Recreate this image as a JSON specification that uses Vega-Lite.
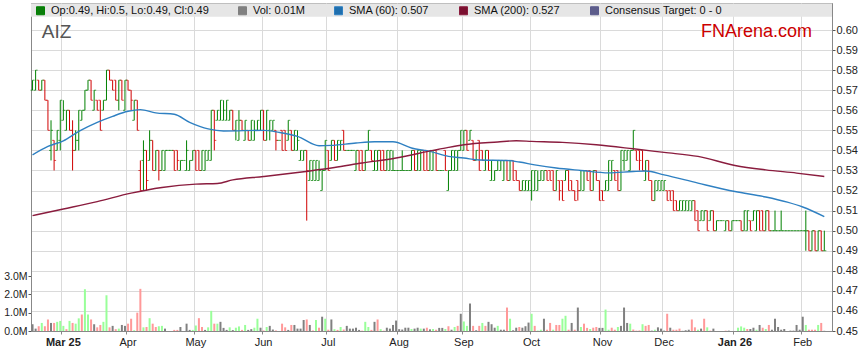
{
"$schema":"https://vega.github.io/schema/vega-lite/v6.json",
"width":801,"height":328,
"autosize":{"type":"none"},
"padding":{"left":31,"top":3,"right":27,"bottom":32},
"background":"white",
"config":{"font":"Liberation Sans","view":{"stroke":"#999"}},
"datasets":{
"px":[
{"d":"2025-02-17","o":0.57,"h":0.575,"l":0.57,"c":0.575,"v":370000,"t":"n"},
{"d":"2025-02-18","o":0.57,"h":0.58,"l":0.57,"c":0.58,"v":130000,"t":"n"},
{"d":"2025-02-19","o":0.575,"h":0.575,"l":0.57,"c":0.57,"v":260000,"t":"d"},
{"d":"2025-02-20","o":0.57,"h":0.575,"l":0.57,"c":0.575,"v":440000,"t":"u"},
{"d":"2025-02-21","o":0.575,"h":0.575,"l":0.565,"c":0.565,"v":260000,"t":"d"},
{"d":"2025-02-24","o":0.565,"h":0.565,"l":0.55,"c":0.55,"v":630000,"t":"d"},
{"d":"2025-02-25","o":0.54,"h":0.555,"l":0.535,"c":0.55,"v":440000,"t":"n"},
{"d":"2025-02-26","o":0.545,"h":0.545,"l":0.53,"c":0.535,"v":440000,"t":"d"},
{"d":"2025-02-27","o":0.54,"h":0.55,"l":0.54,"c":0.55,"v":500000,"t":"u"},
{"d":"2025-02-28","o":0.545,"h":0.565,"l":0.54,"c":0.565,"v":550000,"t":"u"},
{"d":"2025-03-03","o":0.555,"h":0.565,"l":0.555,"c":0.56,"v":280000,"t":"u"},
{"d":"2025-03-04","o":0.55,"h":0.56,"l":0.55,"c":0.56,"v":100000,"t":"d"},
{"d":"2025-03-05","o":0.56,"h":0.56,"l":0.55,"c":0.55,"v":550000,"t":"u"},
{"d":"2025-03-06","o":0.55,"h":0.555,"l":0.53,"c":0.54,"v":440000,"t":"d"},
{"d":"2025-03-07","o":0.54,"h":0.55,"l":0.54,"c":0.545,"v":400000,"t":"u"},
{"d":"2025-03-10","o":0.545,"h":0.56,"l":0.54,"c":0.56,"v":690000,"t":"u"},
{"d":"2025-03-11","o":0.555,"h":0.56,"l":0.555,"c":0.56,"v":900000,"t":"d"},
{"d":"2025-03-12","o":0.56,"h":0.57,"l":0.56,"c":0.57,"v":2280000,"t":"u"},
{"d":"2025-03-13","o":0.57,"h":0.575,"l":0.57,"c":0.575,"v":900000,"t":"u"},
{"d":"2025-03-14","o":0.575,"h":0.575,"l":0.565,"c":0.565,"v":630000,"t":"d"},
{"d":"2025-03-17","o":0.56,"h":0.57,"l":0.56,"c":0.57,"v":370000,"t":"n"},
{"d":"2025-03-18","o":0.565,"h":0.565,"l":0.56,"c":0.56,"v":200000,"t":"d"},
{"d":"2025-03-19","o":0.565,"h":0.565,"l":0.55,"c":0.55,"v":330000,"t":"d"},
{"d":"2025-03-20","o":0.56,"h":0.565,"l":0.56,"c":0.565,"v":500000,"t":"u"},
{"d":"2025-03-21","o":0.565,"h":0.58,"l":0.565,"c":0.58,"v":1950000,"t":"u"},
{"d":"2025-03-24","o":0.58,"h":0.58,"l":0.575,"c":0.575,"v":200000,"t":"d"},
{"d":"2025-03-25","o":0.575,"h":0.575,"l":0.57,"c":0.57,"v":280000,"t":"n"},
{"d":"2025-03-26","o":0.575,"h":0.575,"l":0.565,"c":0.565,"v":100000,"t":"d"},
{"d":"2025-03-27","o":0.565,"h":0.575,"l":0.56,"c":0.575,"v":130000,"t":"u"},
{"d":"2025-03-28","o":0.575,"h":0.575,"l":0.565,"c":0.565,"v":330000,"t":"n"},
{"d":"2025-03-31","o":0.56,"h":0.575,"l":0.56,"c":0.575,"v":280000,"t":"n"},
{"d":"2025-04-01","o":0.575,"h":0.575,"l":0.57,"c":0.57,"v":400000,"t":"d"},
{"d":"2025-04-02","o":0.57,"h":0.57,"l":0.56,"c":0.565,"v":670000,"t":"d"},
{"d":"2025-04-03","o":0.555,"h":0.565,"l":0.555,"c":0.565,"v":40000,"t":"u"},
{"d":"2025-04-04","o":0.565,"h":0.565,"l":0.55,"c":0.55,"v":1000000,"t":"d"},
{"d":"2025-04-07","o":0.53,"h":0.535,"l":0.52,"c":0.52,"v":2300000,"t":"d"},
{"d":"2025-04-08","o":0.535,"h":0.545,"l":0.52,"c":0.54,"v":200000,"t":"u"},
{"d":"2025-04-09","o":0.54,"h":0.54,"l":0.52,"c":0.525,"v":220000,"t":"d"},
{"d":"2025-04-10","o":0.535,"h":0.55,"l":0.535,"c":0.545,"v":700000,"t":"u"},
{"d":"2025-04-11","o":0.545,"h":0.545,"l":0.53,"c":0.53,"v":400000,"t":"d"},
{"d":"2025-04-14","o":0.53,"h":0.54,"l":0.53,"c":0.54,"v":220000,"t":"d"},
{"d":"2025-04-15","o":0.54,"h":0.54,"l":0.525,"c":0.53,"v":260000,"t":"u"},
{"d":"2025-04-16","o":0.53,"h":0.54,"l":0.53,"c":0.54,"v":280000,"t":"u"},
{"d":"2025-04-17","o":0.53,"h":0.54,"l":0.53,"c":0.54,"v":130000,"t":"n"},
{"d":"2025-04-18","o":0.54,"h":0.54,"l":0.54,"c":0.54,"v":0,"t":"n"},
{"d":"2025-04-21","o":0.54,"h":0.54,"l":0.54,"c":0.54,"v":0,"t":"n"},
{"d":"2025-04-22","o":0.54,"h":0.54,"l":0.53,"c":0.53,"v":60000,"t":"d"},
{"d":"2025-04-23","o":0.54,"h":0.54,"l":0.53,"c":0.535,"v":60000,"t":"d"},
{"d":"2025-04-24","o":0.53,"h":0.535,"l":0.53,"c":0.535,"v":220000,"t":"n"},
{"d":"2025-04-25","o":0.535,"h":0.535,"l":0.535,"c":0.535,"v":0,"t":"n"},
{"d":"2025-04-28","o":0.53,"h":0.545,"l":0.53,"c":0.54,"v":400000,"t":"n"},
{"d":"2025-04-29","o":0.53,"h":0.535,"l":0.53,"c":0.535,"v":60000,"t":"n"},
{"d":"2025-04-30","o":0.535,"h":0.54,"l":0.535,"c":0.54,"v":60000,"t":"u"},
{"d":"2025-05-01","o":0.54,"h":0.54,"l":0.53,"c":0.53,"v":300000,"t":"u"},
{"d":"2025-05-02","o":0.54,"h":0.54,"l":0.53,"c":0.53,"v":700000,"t":"d"},
{"d":"2025-05-05","o":0.53,"h":0.54,"l":0.53,"c":0.54,"v":220000,"t":"d"},
{"d":"2025-05-06","o":0.53,"h":0.54,"l":0.53,"c":0.54,"v":60000,"t":"n"},
{"d":"2025-05-07","o":0.535,"h":0.54,"l":0.535,"c":0.54,"v":200000,"t":"u"},
{"d":"2025-05-08","o":0.535,"h":0.56,"l":0.535,"c":0.56,"v":1100000,"t":"u"},
{"d":"2025-05-09","o":0.56,"h":0.56,"l":0.54,"c":0.545,"v":400000,"t":"d"},
{"d":"2025-05-12","o":0.555,"h":0.56,"l":0.555,"c":0.56,"v":400000,"t":"u"},
{"d":"2025-05-13","o":0.555,"h":0.565,"l":0.555,"c":0.565,"v":500000,"t":"n"},
{"d":"2025-05-14","o":0.555,"h":0.565,"l":0.555,"c":0.56,"v":170000,"t":"n"},
{"d":"2025-05-15","o":0.555,"h":0.565,"l":0.555,"c":0.565,"v":60000,"t":"n"},
{"d":"2025-05-16","o":0.555,"h":0.56,"l":0.555,"c":0.56,"v":200000,"t":"u"},
{"d":"2025-05-19","o":0.56,"h":0.56,"l":0.55,"c":0.55,"v":50000,"t":"n"},
{"d":"2025-05-20","o":0.55,"h":0.555,"l":0.545,"c":0.555,"v":180000,"t":"u"},
{"d":"2025-05-21","o":0.545,"h":0.56,"l":0.545,"c":0.555,"v":250000,"t":"u"},
{"d":"2025-05-22","o":0.555,"h":0.555,"l":0.55,"c":0.55,"v":60000,"t":"d"},
{"d":"2025-05-23","o":0.545,"h":0.555,"l":0.545,"c":0.555,"v":330000,"t":"u"},
{"d":"2025-05-26","o":0.55,"h":0.55,"l":0.545,"c":0.545,"v":60000,"t":"n"},
{"d":"2025-05-27","o":0.545,"h":0.555,"l":0.545,"c":0.555,"v":100000,"t":"n"},
{"d":"2025-05-28","o":0.545,"h":0.555,"l":0.545,"c":0.55,"v":180000,"t":"u"},
{"d":"2025-05-29","o":0.55,"h":0.555,"l":0.55,"c":0.555,"v":670000,"t":"u"},
{"d":"2025-05-30","o":0.55,"h":0.56,"l":0.55,"c":0.56,"v":180000,"t":"n"},
{"d":"2025-06-02","o":0.56,"h":0.56,"l":0.545,"c":0.545,"v":30000,"t":"d"},
{"d":"2025-06-03","o":0.545,"h":0.56,"l":0.545,"c":0.56,"v":220000,"t":"u"},
{"d":"2025-06-04","o":0.55,"h":0.555,"l":0.545,"c":0.555,"v":280000,"t":"n"},
{"d":"2025-06-05","o":0.55,"h":0.555,"l":0.55,"c":0.555,"v":80000,"t":"n"},
{"d":"2025-06-06","o":0.55,"h":0.55,"l":0.54,"c":0.545,"v":30000,"t":"d"},
{"d":"2025-06-09","o":0.545,"h":0.545,"l":0.545,"c":0.545,"v":0,"t":"n"},
{"d":"2025-06-10","o":0.55,"h":0.55,"l":0.54,"c":0.54,"v":400000,"t":"d"},
{"d":"2025-06-11","o":0.55,"h":0.55,"l":0.54,"c":0.54,"v":200000,"t":"d"},
{"d":"2025-06-12","o":0.545,"h":0.555,"l":0.545,"c":0.555,"v":60000,"t":"n"},
{"d":"2025-06-13","o":0.55,"h":0.55,"l":0.54,"c":0.54,"v":330000,"t":"d"},
{"d":"2025-06-16","o":0.54,"h":0.55,"l":0.54,"c":0.55,"v":330000,"t":"n"},
{"d":"2025-06-17","o":0.54,"h":0.55,"l":0.54,"c":0.545,"v":130000,"t":"n"},
{"d":"2025-06-18","o":0.535,"h":0.54,"l":0.535,"c":0.54,"v":130000,"t":"n"},
{"d":"2025-06-19","o":0.535,"h":0.54,"l":0.535,"c":0.54,"v":600000,"t":"n"},
{"d":"2025-06-20","o":0.54,"h":0.54,"l":0.505,"c":0.53,"v":630000,"t":"d"},
{"d":"2025-06-23","o":0.525,"h":0.535,"l":0.525,"c":0.535,"v":330000,"t":"n"},
{"d":"2025-06-24","o":0.525,"h":0.535,"l":0.525,"c":0.535,"v":30000,"t":"d"},
{"d":"2025-06-25","o":0.525,"h":0.535,"l":0.525,"c":0.535,"v":600000,"t":"u"},
{"d":"2025-06-26","o":0.525,"h":0.535,"l":0.525,"c":0.53,"v":180000,"t":"d"},
{"d":"2025-06-27","o":0.52,"h":0.53,"l":0.52,"c":0.53,"v":780000,"t":"n"},
{"d":"2025-06-30","o":0.53,"h":0.545,"l":0.53,"c":0.545,"v":670000,"t":"u"},
{"d":"2025-07-01","o":0.54,"h":0.54,"l":0.53,"c":0.53,"v":70000,"t":"d"},
{"d":"2025-07-02","o":0.535,"h":0.545,"l":0.535,"c":0.545,"v":630000,"t":"n"},
{"d":"2025-07-03","o":0.545,"h":0.545,"l":0.535,"c":0.535,"v":100000,"t":"u"},
{"d":"2025-07-04","o":0.535,"h":0.545,"l":0.535,"c":0.545,"v":60000,"t":"d"},
{"d":"2025-07-07","o":0.54,"h":0.545,"l":0.54,"c":0.545,"v":220000,"t":"u"},
{"d":"2025-07-08","o":0.55,"h":0.55,"l":0.54,"c":0.54,"v":80000,"t":"d"},
{"d":"2025-07-09","o":0.54,"h":0.54,"l":0.54,"c":0.54,"v":280000,"t":"n"},
{"d":"2025-07-10","o":0.54,"h":0.54,"l":0.54,"c":0.54,"v":130000,"t":"n"},
{"d":"2025-07-11","o":0.54,"h":0.54,"l":0.54,"c":0.54,"v":130000,"t":"n"},
{"d":"2025-07-14","o":0.53,"h":0.54,"l":0.53,"c":0.54,"v":180000,"t":"n"},
{"d":"2025-07-15","o":0.54,"h":0.54,"l":0.53,"c":0.53,"v":60000,"t":"n"},
{"d":"2025-07-16","o":0.54,"h":0.54,"l":0.53,"c":0.53,"v":20000,"t":"d"},
{"d":"2025-07-17","o":0.53,"h":0.54,"l":0.53,"c":0.54,"v":500000,"t":"u"},
{"d":"2025-07-18","o":0.54,"h":0.55,"l":0.54,"c":0.55,"v":220000,"t":"u"},
{"d":"2025-07-21","o":0.54,"h":0.54,"l":0.535,"c":0.535,"v":60000,"t":"d"},
{"d":"2025-07-22","o":0.53,"h":0.54,"l":0.53,"c":0.54,"v":500000,"t":"n"},
{"d":"2025-07-23","o":0.53,"h":0.54,"l":0.53,"c":0.54,"v":630000,"t":"d"},
{"d":"2025-07-24","o":0.54,"h":0.54,"l":0.53,"c":0.53,"v":100000,"t":"u"},
{"d":"2025-07-25","o":0.54,"h":0.54,"l":0.53,"c":0.53,"v":20000,"t":"d"},
{"d":"2025-07-28","o":0.53,"h":0.54,"l":0.53,"c":0.54,"v":180000,"t":"n"},
{"d":"2025-07-29","o":0.53,"h":0.54,"l":0.53,"c":0.54,"v":130000,"t":"n"},
{"d":"2025-07-30","o":0.53,"h":0.54,"l":0.53,"c":0.53,"v":330000,"t":"n"},
{"d":"2025-07-31","o":0.53,"h":0.53,"l":0.53,"c":0.53,"v":570000,"t":"n"},
{"d":"2025-08-01","o":0.53,"h":0.53,"l":0.53,"c":0.53,"v":100000,"t":"n"},
{"d":"2025-08-04","o":0.53,"h":0.54,"l":0.53,"c":0.53,"v":80000,"t":"n"},
{"d":"2025-08-05","o":0.53,"h":0.53,"l":0.53,"c":0.53,"v":180000,"t":"n"},
{"d":"2025-08-06","o":0.53,"h":0.53,"l":0.53,"c":0.53,"v":180000,"t":"n"},
{"d":"2025-08-07","o":0.53,"h":0.54,"l":0.53,"c":0.54,"v":110000,"t":"u"},
{"d":"2025-08-08","o":0.54,"h":0.54,"l":0.53,"c":0.53,"v":130000,"t":"n"},
{"d":"2025-08-11","o":0.53,"h":0.54,"l":0.53,"c":0.54,"v":180000,"t":"n"},
{"d":"2025-08-12","o":0.53,"h":0.54,"l":0.53,"c":0.54,"v":130000,"t":"u"},
{"d":"2025-08-13","o":0.54,"h":0.54,"l":0.53,"c":0.53,"v":130000,"t":"n"},
{"d":"2025-08-14","o":0.54,"h":0.54,"l":0.53,"c":0.53,"v":180000,"t":"d"},
{"d":"2025-08-15","o":0.53,"h":0.54,"l":0.53,"c":0.54,"v":90000,"t":"n"},
{"d":"2025-08-18","o":0.53,"h":0.54,"l":0.53,"c":0.54,"v":110000,"t":"u"},
{"d":"2025-08-19","o":0.54,"h":0.54,"l":0.53,"c":0.53,"v":70000,"t":"d"},
{"d":"2025-08-20","o":0.53,"h":0.53,"l":0.53,"c":0.53,"v":170000,"t":"n"},
{"d":"2025-08-21","o":0.53,"h":0.53,"l":0.53,"c":0.53,"v":170000,"t":"n"},
{"d":"2025-08-22","o":0.54,"h":0.54,"l":0.53,"c":0.53,"v":110000,"t":"u"},
{"d":"2025-08-25","o":0.52,"h":0.53,"l":0.52,"c":0.53,"v":260000,"t":"d"},
{"d":"2025-08-26","o":0.53,"h":0.54,"l":0.53,"c":0.54,"v":70000,"t":"n"},
{"d":"2025-08-27","o":0.53,"h":0.54,"l":0.53,"c":0.54,"v":220000,"t":"u"},
{"d":"2025-08-28","o":0.53,"h":0.54,"l":0.53,"c":0.54,"v":280000,"t":"d"},
{"d":"2025-08-29","o":0.54,"h":0.55,"l":0.54,"c":0.55,"v":940000,"t":"n"},
{"d":"2025-09-01","o":0.54,"h":0.55,"l":0.54,"c":0.55,"v":520000,"t":"u"},
{"d":"2025-09-02","o":0.55,"h":0.55,"l":0.54,"c":0.54,"v":280000,"t":"u"},
{"d":"2025-09-03","o":0.545,"h":0.55,"l":0.545,"c":0.55,"v":1500000,"t":"n"},
{"d":"2025-09-04","o":0.545,"h":0.545,"l":0.535,"c":0.535,"v":280000,"t":"d"},
{"d":"2025-09-05","o":0.535,"h":0.54,"l":0.535,"c":0.54,"v":40000,"t":"n"},
{"d":"2025-09-08","o":0.545,"h":0.545,"l":0.53,"c":0.53,"v":280000,"t":"d"},
{"d":"2025-09-09","o":0.54,"h":0.54,"l":0.535,"c":0.535,"v":440000,"t":"u"},
{"d":"2025-09-10","o":0.53,"h":0.54,"l":0.53,"c":0.54,"v":280000,"t":"d"},
{"d":"2025-09-11","o":0.54,"h":0.54,"l":0.53,"c":0.53,"v":500000,"t":"n"},
{"d":"2025-09-12","o":0.525,"h":0.535,"l":0.525,"c":0.535,"v":370000,"t":"n"},
{"d":"2025-09-15","o":0.525,"h":0.53,"l":0.525,"c":0.53,"v":180000,"t":"n"},
{"d":"2025-09-16","o":0.53,"h":0.535,"l":0.53,"c":0.535,"v":280000,"t":"u"},
{"d":"2025-09-17","o":0.53,"h":0.535,"l":0.53,"c":0.535,"v":70000,"t":"n"},
{"d":"2025-09-18","o":0.525,"h":0.535,"l":0.525,"c":0.535,"v":70000,"t":"n"},
{"d":"2025-09-19","o":0.535,"h":0.535,"l":0.525,"c":0.525,"v":1280000,"t":"d"},
{"d":"2025-09-22","o":0.525,"h":0.535,"l":0.525,"c":0.535,"v":670000,"t":"u"},
{"d":"2025-09-23","o":0.535,"h":0.535,"l":0.525,"c":0.525,"v":40000,"t":"n"},
{"d":"2025-09-24","o":0.53,"h":0.53,"l":0.525,"c":0.525,"v":180000,"t":"n"},
{"d":"2025-09-25","o":0.525,"h":0.525,"l":0.52,"c":0.52,"v":220000,"t":"d"},
{"d":"2025-09-26","o":0.52,"h":0.525,"l":0.52,"c":0.525,"v":180000,"t":"n"},
{"d":"2025-09-29","o":0.52,"h":0.525,"l":0.52,"c":0.525,"v":260000,"t":"n"},
{"d":"2025-09-30","o":0.52,"h":0.525,"l":0.52,"c":0.525,"v":460000,"t":"n"},
{"d":"2025-10-01","o":0.52,"h":0.53,"l":0.515,"c":0.53,"v":940000,"t":"u"},
{"d":"2025-10-02","o":0.52,"h":0.53,"l":0.52,"c":0.53,"v":280000,"t":"d"},
{"d":"2025-10-03","o":0.52,"h":0.53,"l":0.52,"c":0.525,"v":20000,"t":"u"},
{"d":"2025-10-06","o":0.525,"h":0.53,"l":0.525,"c":0.53,"v":70000,"t":"u"},
{"d":"2025-10-07","o":0.525,"h":0.53,"l":0.525,"c":0.53,"v":670000,"t":"n"},
{"d":"2025-10-08","o":0.53,"h":0.53,"l":0.525,"c":0.525,"v":70000,"t":"d"},
{"d":"2025-10-09","o":0.53,"h":0.53,"l":0.525,"c":0.525,"v":440000,"t":"d"},
{"d":"2025-10-10","o":0.53,"h":0.53,"l":0.52,"c":0.52,"v":70000,"t":"u"},
{"d":"2025-10-13","o":0.52,"h":0.53,"l":0.52,"c":0.53,"v":330000,"t":"d"},
{"d":"2025-10-14","o":0.525,"h":0.525,"l":0.515,"c":0.52,"v":330000,"t":"d"},
{"d":"2025-10-15","o":0.525,"h":0.525,"l":0.515,"c":0.515,"v":670000,"t":"u"},
{"d":"2025-10-16","o":0.525,"h":0.53,"l":0.525,"c":0.53,"v":830000,"t":"u"},
{"d":"2025-10-17","o":0.53,"h":0.53,"l":0.52,"c":0.52,"v":70000,"t":"d"},
{"d":"2025-10-20","o":0.525,"h":0.525,"l":0.52,"c":0.52,"v":440000,"t":"n"},
{"d":"2025-10-21","o":0.52,"h":0.52,"l":0.515,"c":0.515,"v":70000,"t":"d"},
{"d":"2025-10-22","o":0.525,"h":0.525,"l":0.515,"c":0.52,"v":1280000,"t":"n"},
{"d":"2025-10-23","o":0.52,"h":0.53,"l":0.52,"c":0.53,"v":220000,"t":"u"},
{"d":"2025-10-24","o":0.52,"h":0.53,"l":0.52,"c":0.53,"v":400000,"t":"d"},
{"d":"2025-10-27","o":0.53,"h":0.53,"l":0.525,"c":0.525,"v":170000,"t":"d"},
{"d":"2025-10-28","o":0.53,"h":0.53,"l":0.52,"c":0.52,"v":110000,"t":"u"},
{"d":"2025-10-29","o":0.52,"h":0.53,"l":0.52,"c":0.53,"v":180000,"t":"d"},
{"d":"2025-10-30","o":0.53,"h":0.53,"l":0.525,"c":0.525,"v":220000,"t":"d"},
{"d":"2025-10-31","o":0.525,"h":0.525,"l":0.515,"c":0.515,"v":170000,"t":"n"},
{"d":"2025-11-03","o":0.52,"h":0.52,"l":0.515,"c":0.515,"v":170000,"t":"n"},
{"d":"2025-11-04","o":0.52,"h":0.525,"l":0.52,"c":0.525,"v":1170000,"t":"u"},
{"d":"2025-11-05","o":0.52,"h":0.535,"l":0.52,"c":0.535,"v":70000,"t":"u"},
{"d":"2025-11-06","o":0.525,"h":0.535,"l":0.525,"c":0.535,"v":180000,"t":"d"},
{"d":"2025-11-07","o":0.53,"h":0.53,"l":0.525,"c":0.525,"v":70000,"t":"d"},
{"d":"2025-11-10","o":0.53,"h":0.53,"l":0.52,"c":0.52,"v":220000,"t":"u"},
{"d":"2025-11-11","o":0.52,"h":0.54,"l":0.52,"c":0.54,"v":280000,"t":"n"},
{"d":"2025-11-12","o":0.535,"h":0.54,"l":0.53,"c":0.54,"v":1280000,"t":"n"},
{"d":"2025-11-13","o":0.535,"h":0.54,"l":0.535,"c":0.54,"v":440000,"t":"n"},
{"d":"2025-11-14","o":0.53,"h":0.54,"l":0.53,"c":0.54,"v":400000,"t":"u"},
{"d":"2025-11-17","o":0.54,"h":0.55,"l":0.54,"c":0.55,"v":80000,"t":"d"},
{"d":"2025-11-18","o":0.54,"h":0.54,"l":0.535,"c":0.535,"v":20000,"t":"d"},
{"d":"2025-11-19","o":0.54,"h":0.54,"l":0.53,"c":0.535,"v":30000,"t":"d"},
{"d":"2025-11-20","o":0.54,"h":0.54,"l":0.53,"c":0.53,"v":370000,"t":"u"},
{"d":"2025-11-21","o":0.525,"h":0.535,"l":0.525,"c":0.535,"v":280000,"t":"d"},
{"d":"2025-11-24","o":0.535,"h":0.535,"l":0.525,"c":0.525,"v":330000,"t":"d"},
{"d":"2025-11-25","o":0.525,"h":0.525,"l":0.515,"c":0.515,"v":20000,"t":"n"},
{"d":"2025-11-26","o":0.515,"h":0.525,"l":0.515,"c":0.525,"v":70000,"t":"u"},
{"d":"2025-11-27","o":0.52,"h":0.525,"l":0.52,"c":0.525,"v":200000,"t":"n"},
{"d":"2025-11-28","o":0.52,"h":0.525,"l":0.52,"c":0.525,"v":130000,"t":"n"},
{"d":"2025-12-01","o":0.52,"h":0.525,"l":0.52,"c":0.525,"v":20000,"t":"n"},
{"d":"2025-12-02","o":0.52,"h":0.52,"l":0.515,"c":0.515,"v":940000,"t":"d"},
{"d":"2025-12-03","o":0.52,"h":0.52,"l":0.515,"c":0.515,"v":180000,"t":"n"},
{"d":"2025-12-04","o":0.52,"h":0.52,"l":0.51,"c":0.51,"v":70000,"t":"d"},
{"d":"2025-12-05","o":0.515,"h":0.515,"l":0.51,"c":0.51,"v":70000,"t":"d"},
{"d":"2025-12-08","o":0.51,"h":0.515,"l":0.51,"c":0.515,"v":130000,"t":"d"},
{"d":"2025-12-09","o":0.51,"h":0.515,"l":0.51,"c":0.515,"v":10000,"t":"n"},
{"d":"2025-12-10","o":0.51,"h":0.515,"l":0.51,"c":0.515,"v":40000,"t":"n"},
{"d":"2025-12-11","o":0.51,"h":0.515,"l":0.51,"c":0.515,"v":70000,"t":"n"},
{"d":"2025-12-12","o":0.51,"h":0.515,"l":0.51,"c":0.515,"v":630000,"t":"d"},
{"d":"2025-12-15","o":0.515,"h":0.515,"l":0.505,"c":0.505,"v":200000,"t":"d"},
{"d":"2025-12-16","o":0.51,"h":0.51,"l":0.5,"c":0.5,"v":70000,"t":"u"},
{"d":"2025-12-17","o":0.505,"h":0.51,"l":0.505,"c":0.51,"v":130000,"t":"n"},
{"d":"2025-12-18","o":0.505,"h":0.51,"l":0.505,"c":0.51,"v":670000,"t":"d"},
{"d":"2025-12-19","o":0.51,"h":0.51,"l":0.5,"c":0.5,"v":200000,"t":"u"},
{"d":"2025-12-22","o":0.505,"h":0.51,"l":0.505,"c":0.51,"v":20000,"t":"d"},
{"d":"2025-12-23","o":0.51,"h":0.51,"l":0.5,"c":0.5,"v":130000,"t":"n"},
{"d":"2025-12-24","o":0.5,"h":0.505,"l":0.5,"c":0.505,"v":0,"t":"n"},
{"d":"2025-12-25","o":0.505,"h":0.505,"l":0.505,"c":0.505,"v":0,"t":"n"},
{"d":"2025-12-26","o":0.505,"h":0.505,"l":0.505,"c":0.505,"v":0,"t":"n"},
{"d":"2025-12-29","o":0.5,"h":0.505,"l":0.5,"c":0.505,"v":20000,"t":"d"},
{"d":"2025-12-30","o":0.505,"h":0.505,"l":0.5,"c":0.5,"v":20000,"t":"n"},
{"d":"2025-12-31","o":0.5,"h":0.505,"l":0.5,"c":0.505,"v":0,"t":"n"},
{"d":"2026-01-01","o":0.505,"h":0.505,"l":0.505,"c":0.505,"v":0,"t":"n"},
{"d":"2026-01-02","o":0.505,"h":0.505,"l":0.505,"c":0.505,"v":180000,"t":"u"},
{"d":"2026-01-05","o":0.505,"h":0.505,"l":0.5,"c":0.5,"v":250000,"t":"u"},
{"d":"2026-01-06","o":0.5,"h":0.51,"l":0.5,"c":0.51,"v":180000,"t":"u"},
{"d":"2026-01-07","o":0.5,"h":0.51,"l":0.5,"c":0.51,"v":110000,"t":"d"},
{"d":"2026-01-08","o":0.505,"h":0.505,"l":0.5,"c":0.5,"v":110000,"t":"n"},
{"d":"2026-01-09","o":0.505,"h":0.51,"l":0.505,"c":0.51,"v":180000,"t":"n"},
{"d":"2026-01-12","o":0.5,"h":0.51,"l":0.5,"c":0.51,"v":70000,"t":"u"},
{"d":"2026-01-13","o":0.51,"h":0.51,"l":0.5,"c":0.5,"v":330000,"t":"n"},
{"d":"2026-01-14","o":0.51,"h":0.51,"l":0.5,"c":0.5,"v":180000,"t":"d"},
{"d":"2026-01-15","o":0.5,"h":0.51,"l":0.5,"c":0.51,"v":110000,"t":"u"},
{"d":"2026-01-16","o":0.51,"h":0.51,"l":0.5,"c":0.5,"v":330000,"t":"d"},
{"d":"2026-01-19","o":0.5,"h":0.5,"l":0.5,"c":0.5,"v":70000,"t":"n"},
{"d":"2026-01-20","o":0.5,"h":0.51,"l":0.5,"c":0.5,"v":670000,"t":"n"},
{"d":"2026-01-21","o":0.5,"h":0.5,"l":0.5,"c":0.5,"v":220000,"t":"n"},
{"d":"2026-01-22","o":0.5,"h":0.51,"l":0.5,"c":0.5,"v":70000,"t":"n"},
{"d":"2026-01-23","o":0.5,"h":0.5,"l":0.5,"c":0.5,"v":110000,"t":"n"},
{"d":"2026-01-26","o":0.5,"h":0.5,"l":0.5,"c":0.5,"v":0,"t":"n"},
{"d":"2026-01-27","o":0.5,"h":0.5,"l":0.5,"c":0.5,"v":20000,"t":"n"},
{"d":"2026-01-28","o":0.5,"h":0.5,"l":0.5,"c":0.5,"v":20000,"t":"n"},
{"d":"2026-01-29","o":0.5,"h":0.5,"l":0.5,"c":0.5,"v":330000,"t":"n"},
{"d":"2026-01-30","o":0.5,"h":0.5,"l":0.5,"c":0.5,"v":70000,"t":"n"},
{"d":"2026-02-02","o":0.5,"h":0.5,"l":0.5,"c":0.5,"v":780000,"t":"n"},
{"d":"2026-02-03","o":0.5,"h":0.51,"l":0.49,"c":0.5,"v":330000,"t":"u"},
{"d":"2026-02-04","o":0.5,"h":0.5,"l":0.49,"c":0.49,"v":70000,"t":"d"},
{"d":"2026-02-05","o":0.49,"h":0.5,"l":0.49,"c":0.5,"v":70000,"t":"d"},
{"d":"2026-02-06","o":0.5,"h":0.5,"l":0.49,"c":0.49,"v":70000,"t":"d"},
{"d":"2026-02-09","o":0.49,"h":0.5,"l":0.49,"c":0.5,"v":330000,"t":"u"},
{"d":"2026-02-10","o":0.5,"h":0.5,"l":0.49,"c":0.49,"v":440000,"t":"d"},
{"d":"2026-02-11","o":0.49,"h":0.5,"l":0.49,"c":0.49,"v":10000,"t":"n"}
],
"sma":[
{"d":"2025-02-17","s":"SMA (60): 0.507","y":0.5378},
{"d":"2025-02-24","s":"SMA (60): 0.507","y":0.542},
{"d":"2025-03-03","s":"SMA (60): 0.507","y":0.5448},
{"d":"2025-03-10","s":"SMA (60): 0.507","y":0.5495},
{"d":"2025-03-18","s":"SMA (60): 0.507","y":0.554},
{"d":"2025-03-25","s":"SMA (60): 0.507","y":0.557},
{"d":"2025-04-01","s":"SMA (60): 0.507","y":0.5595},
{"d":"2025-04-07","s":"SMA (60): 0.507","y":0.5603},
{"d":"2025-04-14","s":"SMA (60): 0.507","y":0.5587},
{"d":"2025-04-22","s":"SMA (60): 0.507","y":0.558},
{"d":"2025-04-29","s":"SMA (60): 0.507","y":0.554},
{"d":"2025-05-07","s":"SMA (60): 0.507","y":0.5507},
{"d":"2025-05-14","s":"SMA (60): 0.507","y":0.5497},
{"d":"2025-06-02","s":"SMA (60): 0.507","y":0.55},
{"d":"2025-06-09","s":"SMA (60): 0.507","y":0.549},
{"d":"2025-06-17","s":"SMA (60): 0.507","y":0.547},
{"d":"2025-06-26","s":"SMA (60): 0.507","y":0.5423},
{"d":"2025-07-02","s":"SMA (60): 0.507","y":0.5425},
{"d":"2025-07-14","s":"SMA (60): 0.507","y":0.5437},
{"d":"2025-07-22","s":"SMA (60): 0.507","y":0.5443},
{"d":"2025-07-30","s":"SMA (60): 0.507","y":0.5443},
{"d":"2025-08-07","s":"SMA (60): 0.507","y":0.5412},
{"d":"2025-08-15","s":"SMA (60): 0.507","y":0.5395},
{"d":"2025-08-25","s":"SMA (60): 0.507","y":0.537},
{"d":"2025-09-01","s":"SMA (60): 0.507","y":0.5362},
{"d":"2025-09-08","s":"SMA (60): 0.507","y":0.5352},
{"d":"2025-09-19","s":"SMA (60): 0.507","y":0.535},
{"d":"2025-09-25","s":"SMA (60): 0.507","y":0.5342},
{"d":"2025-10-02","s":"SMA (60): 0.507","y":0.5328},
{"d":"2025-10-13","s":"SMA (60): 0.507","y":0.5312},
{"d":"2025-10-23","s":"SMA (60): 0.507","y":0.53},
{"d":"2025-11-05","s":"SMA (60): 0.507","y":0.5288},
{"d":"2025-11-17","s":"SMA (60): 0.507","y":0.5295},
{"d":"2025-11-21","s":"SMA (60): 0.507","y":0.5297},
{"d":"2025-12-01","s":"SMA (60): 0.507","y":0.5278},
{"d":"2025-12-16","s":"SMA (60): 0.507","y":0.5237},
{"d":"2026-01-01","s":"SMA (60): 0.507","y":0.5195},
{"d":"2026-01-15","s":"SMA (60): 0.507","y":0.5168},
{"d":"2026-01-26","s":"SMA (60): 0.507","y":0.5142},
{"d":"2026-02-02","s":"SMA (60): 0.507","y":0.5118},
{"d":"2026-02-11","s":"SMA (60): 0.507","y":0.507},
{"d":"2025-02-17","s":"SMA (200): 0.527","y":0.5075},
{"d":"2025-03-03","s":"SMA (200): 0.527","y":0.5108},
{"d":"2025-03-18","s":"SMA (200): 0.527","y":0.5145},
{"d":"2025-04-02","s":"SMA (200): 0.527","y":0.5187},
{"d":"2025-04-16","s":"SMA (200): 0.527","y":0.5215},
{"d":"2025-05-01","s":"SMA (200): 0.527","y":0.5232},
{"d":"2025-05-12","s":"SMA (200): 0.527","y":0.5235},
{"d":"2025-05-19","s":"SMA (200): 0.527","y":0.5253},
{"d":"2025-06-02","s":"SMA (200): 0.527","y":0.527},
{"d":"2025-06-17","s":"SMA (200): 0.527","y":0.529},
{"d":"2025-07-03","s":"SMA (200): 0.527","y":0.5315},
{"d":"2025-07-16","s":"SMA (200): 0.527","y":0.5337},
{"d":"2025-07-31","s":"SMA (200): 0.527","y":0.5362},
{"d":"2025-08-18","s":"SMA (200): 0.527","y":0.54},
{"d":"2025-08-25","s":"SMA (200): 0.527","y":0.5415},
{"d":"2025-09-01","s":"SMA (200): 0.527","y":0.5428},
{"d":"2025-09-16","s":"SMA (200): 0.527","y":0.5442},
{"d":"2025-09-24","s":"SMA (200): 0.527","y":0.5448},
{"d":"2025-10-01","s":"SMA (200): 0.527","y":0.5445},
{"d":"2025-10-15","s":"SMA (200): 0.527","y":0.544},
{"d":"2025-10-30","s":"SMA (200): 0.527","y":0.5428},
{"d":"2025-11-17","s":"SMA (200): 0.527","y":0.5408},
{"d":"2025-12-01","s":"SMA (200): 0.527","y":0.539},
{"d":"2025-12-16","s":"SMA (200): 0.527","y":0.537},
{"d":"2026-01-01","s":"SMA (200): 0.527","y":0.5325},
{"d":"2026-01-15","s":"SMA (200): 0.527","y":0.5303},
{"d":"2026-01-29","s":"SMA (200): 0.527","y":0.5287},
{"d":"2026-02-11","s":"SMA (200): 0.527","y":0.527}
]
},
"data":{"name":"px"},
"layer":[
{
"mark":{"type":"bar","width":{"band":0.65}},
"encoding":{
"x":{"field":"d","type":"ordinal","sort":"ascending","title":null,
"scale":{"type":"band","paddingInner":0,"paddingOuter":1.33,"align":0},
"axis":{"title":null,"bandPosition":0,"grid":true,"gridColor":"#dadada","gridWidth":1,"labelOverlap":false,
"values":["2025-03-03","2025-04-01","2025-05-01","2025-06-02","2025-07-01","2025-08-01","2025-09-01","2025-10-01","2025-11-03","2025-12-01","2026-01-01","2026-02-02"],
"labelExpr":"['Mar 25','Apr','May','Jun','Jul','Aug','Sep','Oct','Nov','Dec','Jan 26','Feb'][indexof(['2025-03-03','2025-04-01','2025-05-01','2025-06-02','2025-07-01','2025-08-01','2025-09-01','2025-10-01','2025-11-03','2025-12-01','2026-01-01','2026-02-02'], datum.value)]",
"labelAngle":0,"labelFontSize":11,"labelColor":"#222","labelPadding":2,
"labelFontWeight":{"condition":{"test":"datum.value == '2025-03-03' || datum.value == '2026-01-01'","value":"bold"},"value":"normal"},
"tickSize":3,"tickColor":"#888","domainColor":"#888"}},
"y":{"field":"v","type":"quantitative","title":null,"scale":{"domain":[0,17900000],"zero":true,"nice":false},
"axis":{"orient":"left","title":null,"grid":false,"values":[0,1000000,2000000,3000000],"labelOverlap":false,
"labelExpr":"format(datum.value / 1000000, '.1f') + 'M'","labelFontSize":10.5,"labelColor":"#222",
"tickSize":3,"tickColor":"#555","labelPadding":1,"domainColor":"#888"}},
"color":{"field":"t","type":"nominal","scale":{"domain":["u","d","n"],"range":["#99ff99","#ff9999","#808080"]},"legend":null}
}
},
{
"layer":[
{
"mark":{"type":"rule","strokeWidth":1},
"encoding":{
"x":{"field":"d","type":"ordinal","title":null},
"y":{"field":"l","type":"quantitative","title":null,"scale":{"domain":[0.45,0.61346],"zero":false,"nice":false},
"axis":{"orient":"right","title":null,"grid":true,"gridColor":"#dadada","labelOverlap":false,"tickCount":16,
"values":[0.45,0.46,0.47,0.48,0.49,0.5,0.51,0.52,0.53,0.54,0.55,0.56,0.57,0.58,0.59,0.6],
"format":".2f","labelFontSize":11,"labelColor":"#222","tickSize":3,"tickColor":"#555","labelPadding":1,"domainColor":"#888"}},
"y2":{"field":"h"},
"color":{"condition":{"test":"datum.c >= datum.o","value":"#008000"},"value":"#d00000"}
}
},
{
"mark":{"type":"tick","orient":"horizontal","size":2,"thickness":1,"xOffset":-1},
"encoding":{
"x":{"field":"d","type":"ordinal","title":null},
"y":{"field":"o","type":"quantitative","title":null,"scale":{"domain":[0.45,0.61346],"zero":false,"nice":false},
"axis":{"orient":"right","title":null,"grid":true,"gridColor":"#dadada","labelOverlap":false,"tickCount":16,
"values":[0.45,0.46,0.47,0.48,0.49,0.5,0.51,0.52,0.53,0.54,0.55,0.56,0.57,0.58,0.59,0.6],
"format":".2f","labelFontSize":11,"labelColor":"#222","tickSize":3,"tickColor":"#555","labelPadding":1,"domainColor":"#888"}},
"color":{"condition":{"test":"datum.c >= datum.o","value":"#008000"},"value":"#d00000"}
}
},
{
"mark":{"type":"tick","orient":"horizontal","size":2,"thickness":1,"xOffset":1},
"encoding":{
"x":{"field":"d","type":"ordinal","title":null},
"y":{"field":"c","type":"quantitative","title":null,"scale":{"domain":[0.45,0.61346],"zero":false,"nice":false},
"axis":{"orient":"right","title":null,"grid":true,"gridColor":"#dadada","labelOverlap":false,"tickCount":16,
"values":[0.45,0.46,0.47,0.48,0.49,0.5,0.51,0.52,0.53,0.54,0.55,0.56,0.57,0.58,0.59,0.6],
"format":".2f","labelFontSize":11,"labelColor":"#222","tickSize":3,"tickColor":"#555","labelPadding":1,"domainColor":"#888"}},
"color":{"condition":{"test":"datum.c >= datum.o","value":"#008000"},"value":"#d00000"}
}
},
{
"data":{"name":"sma"},
"mark":{"type":"line","strokeWidth":1.4,"interpolate":"monotone"},
"encoding":{
"x":{"field":"d","type":"ordinal","title":null},
"y":{"field":"y","type":"quantitative","title":null,"scale":{"domain":[0.45,0.61346],"zero":false,"nice":false},
"axis":{"orient":"right","title":null,"grid":true,"gridColor":"#dadada","labelOverlap":false,"tickCount":16,
"values":[0.45,0.46,0.47,0.48,0.49,0.5,0.51,0.52,0.53,0.54,0.55,0.56,0.57,0.58,0.59,0.6],
"format":".2f","labelFontSize":11,"labelColor":"#222","tickSize":3,"tickColor":"#555","labelPadding":1,"domainColor":"#888"}},
"color":{"field":"s","type":"nominal",
"scale":{"domain":["Op:0.49, Hi:0.5, Lo:0.49, Cl:0.49","Vol: 0.01M","SMA (60): 0.507","SMA (200): 0.527","Consensus Target: 0 - 0"],
"range":["#008000","#808080","#2f80c2","#8a1c3e","#5a5a8c"]},
"legend":{"orient":"none","legendX":4,"legendY":2,"direction":"horizontal","columns":5,"title":null,
"symbolType":"square","symbolSize":64,"labelFontSize":11,"labelColor":"#111","labelLimit":400,
"labelOffset":5,"columnPadding":27,"padding":0,
"encode":{"symbols":{"update":{
"fill":{"signal":"['#0a7d0a','#808080','#1f6fae','#7b1030','#5c5c8a'][indexof(['Op:0.49, Hi:0.5, Lo:0.49, Cl:0.49','Vol: 0.01M','SMA (60): 0.507','SMA (200): 0.527','Consensus Target: 0 - 0'], datum.value)]"},
"fillOpacity":{"value":1},"stroke":{"value":"#222"},"strokeWidth":{"value":1},"opacity":{"value":1}}}}}}
}
},
{
"data":{"values":[{}]},
"mark":{"type":"rect","color":"#e6e6e6"},
"encoding":{
"y":{"datum":0.60663,"type":"quantitative","title":null,"scale":{"domain":[0.45,0.61346],"zero":false,"nice":false},
"axis":{"orient":"right","title":null,"grid":true,"gridColor":"#dadada","labelOverlap":false,"tickCount":16,
"values":[0.45,0.46,0.47,0.48,0.49,0.5,0.51,0.52,0.53,0.54,0.55,0.56,0.57,0.58,0.59,0.6],
"format":".2f","labelFontSize":11,"labelColor":"#222","tickSize":3,"tickColor":"#555","labelPadding":1,"domainColor":"#888"}},
"y2":{"datum":0.6132}
}
},
{
"data":{"values":[{"t":"AIZ","d":"2025-02-20"}]},
"mark":{"type":"text","align":"left","baseline":"middle","fontSize":19,"color":"#555"},
"encoding":{
"x":{"field":"d","type":"ordinal","title":null},
"y":{"datum":0.599,"type":"quantitative","title":null,"scale":{"domain":[0.45,0.61346],"zero":false,"nice":false},
"axis":{"orient":"right","title":null,"grid":true,"gridColor":"#dadada","labelOverlap":false,"tickCount":16,
"values":[0.45,0.46,0.47,0.48,0.49,0.5,0.51,0.52,0.53,0.54,0.55,0.56,0.57,0.58,0.59,0.6],
"format":".2f","labelFontSize":11,"labelColor":"#222","tickSize":3,"tickColor":"#555","labelPadding":1,"domainColor":"#888"}},
"text":{"field":"t"}
}
},
{
"data":{"values":[{"t":"FNArena.com","d":"2026-02-05"}]},
"mark":{"type":"text","align":"right","baseline":"middle","fontSize":18,"color":"#cc0000"},
"encoding":{
"x":{"field":"d","type":"ordinal","title":null},
"y":{"datum":0.599,"type":"quantitative","title":null,"scale":{"domain":[0.45,0.61346],"zero":false,"nice":false},
"axis":{"orient":"right","title":null,"grid":true,"gridColor":"#dadada","labelOverlap":false,"tickCount":16,
"values":[0.45,0.46,0.47,0.48,0.49,0.5,0.51,0.52,0.53,0.54,0.55,0.56,0.57,0.58,0.59,0.6],
"format":".2f","labelFontSize":11,"labelColor":"#222","tickSize":3,"tickColor":"#555","labelPadding":1,"domainColor":"#888"}},
"text":{"field":"t"}
}
}
]
}
],
"resolve":{"scale":{"y":"independent","color":"independent"},"axis":{"y":"independent"}}
}
